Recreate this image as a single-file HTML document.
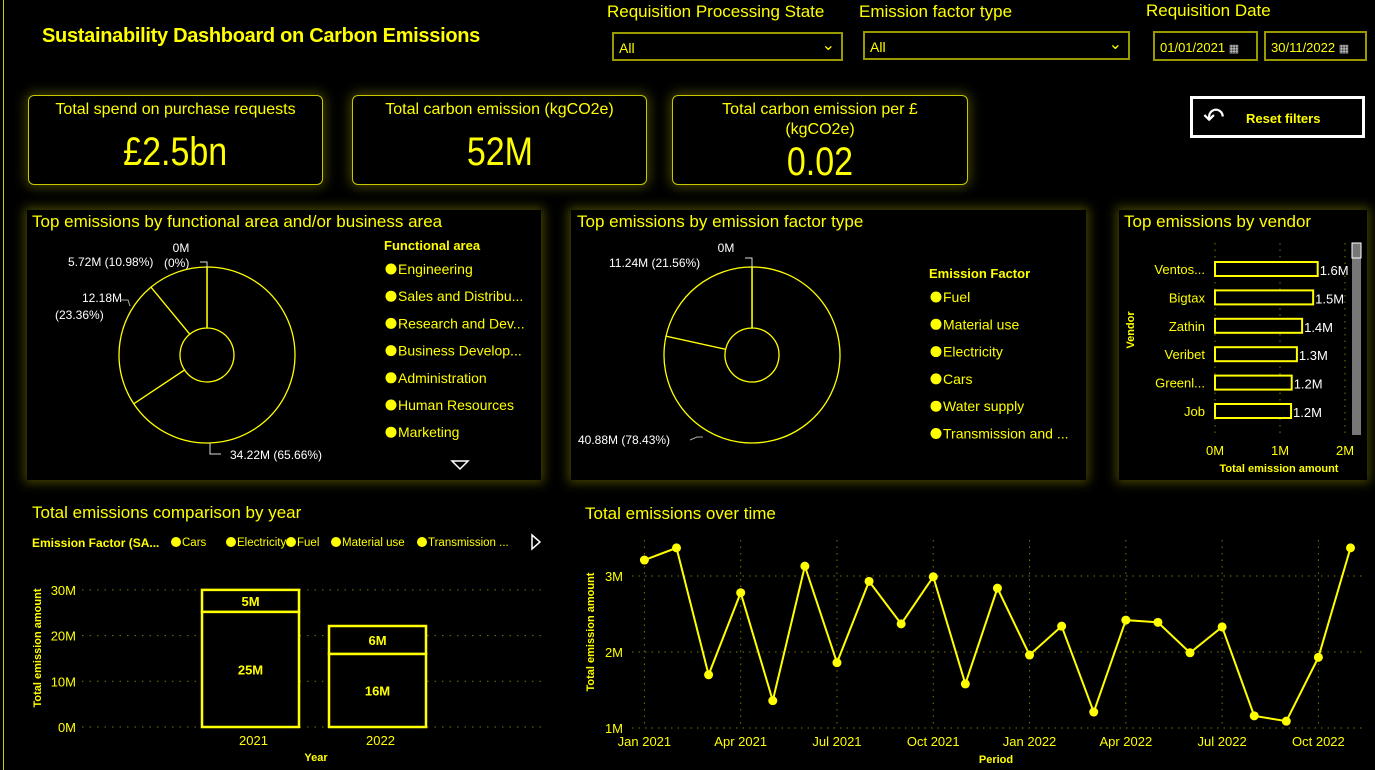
<!DOCTYPE html>
<html><head><meta charset="utf-8">
<style>
body{margin:0;background:#000;width:1375px;height:770px;overflow:hidden;position:relative;font-family:"Liberation Sans",sans-serif;color:#ff0}
.abs{position:absolute}
.panel{position:absolute;background:#000;box-shadow:0 0 10px 3px rgba(120,120,0,.55)}
.kpi{position:absolute;border:1px solid #c8c800;border-radius:6px;box-shadow:0 0 12px 2px rgba(150,150,0,.45);text-align:center}
.kt{font-size:16px;margin-top:4px;line-height:20px}
.kv{font-size:40px;display:inline-block;transform:scaleX(0.85)}
.lbl{position:absolute;font-size:17px}
.dd{position:absolute;border:2px solid #9a9a00;height:25px;box-sizing:border-box;font-size:14px;color:#ff0;padding:6px 0 0 5px}
svg text{font-family:"Liberation Sans",sans-serif}
</style></head><body>
<div class="abs" style="left:3px;top:0;width:1px;height:770px;background:#cc0"></div>
<div class="abs" style="left:42px;top:25px;font-size:20px;font-weight:bold;letter-spacing:-0.3px">Sustainability Dashboard on Carbon Emissions</div>

<div class="lbl" style="left:607px;top:2px">Requisition Processing State</div>
<div class="dd" style="left:612px;top:32px;width:231px;height:29px">All<span style="position:absolute;right:6px;top:1px;font-size:16px">&#8964;</span></div>
<div class="lbl" style="left:859px;top:2px">Emission factor type</div>
<div class="dd" style="left:863px;top:31px;width:267px;height:29px">All<span style="position:absolute;right:6px;top:1px;font-size:16px">&#8964;</span></div>
<div class="lbl" style="left:1146px;top:1px">Requisition Date</div>
<div class="dd" style="left:1153px;top:31px;width:105px;height:30px;padding-top:7px;font-size:13px">01/01/2021 <span style="font-size:11px;color:#ccc">&#9638;</span></div>
<div class="dd" style="left:1264px;top:31px;width:103px;height:30px;padding-top:7px;font-size:13px">30/11/2022 <span style="font-size:11px;color:#ccc">&#9638;</span></div>

<div class="kpi" style="left:28px;top:95px;width:293px;height:88px"><div class="kt">Total spend on purchase requests</div><div class="kv" style="margin-top:10px">£2.5bn</div></div>
<div class="kpi" style="left:352px;top:95px;width:293px;height:88px"><div class="kt">Total carbon emission (kgCO2e)</div><div class="kv" style="margin-top:10px">52M</div></div>
<div class="kpi" style="left:672px;top:95px;width:294px;height:88px"><div class="kt">Total carbon emission per £<br>(kgCO2e)</div><div class="kv" style="margin-top:0px">0.02</div></div>
<div class="abs" style="left:1190px;top:96px;width:175px;height:42px;box-sizing:border-box;border:3px solid #fff;font-weight:bold;font-size:13px"><span style="position:absolute;left:10px;top:3px;color:#fff;font-size:26px;font-weight:normal">&#8630;</span><span style="position:absolute;left:53px;top:12px">Reset filters</span></div>

<div class="panel" style="left:27px;top:210px;width:514px;height:270px"></div>
<div class="panel" style="left:571px;top:210px;width:515px;height:270px"></div>
<div class="panel" style="left:1119px;top:210px;width:248px;height:270px"></div>

<svg class="abs" id="sv" style="left:0;top:0" width="1375" height="770"></svg>

<script>
// ---- data ----
const faLabels=["34.22M (65.66%)","12.18M (23.36%)","5.72M (10.98%)","0M (0%)"];
const faValues=[34.22,12.18,5.72,0];
const faLegend=["Engineering","Sales and Distribu...","Research and Dev...","Business Develop...","Administration","Human Resources","Marketing"];
const efValues=[40.88,11.24,0];
const efLegend=["Fuel","Material use","Electricity","Cars","Water supply","Transmission and ..."];
const vendors=["Ventos...","Bigtax","Zathin","Veribet","Greenl...","Job"];
const vendorValues=[1.58,1.51,1.34,1.26,1.18,1.17];
const vendorLabels=["1.6M","1.5M","1.4M","1.3M","1.2M","1.2M"];
const vendorTicks=[0,1,2];
const years=["2021","2022"];
const yearBottom=[25.2,16.0];
const yearTop=[4.8,6.1];
const yearBottomLabels=["25M","16M"];
const yearTopLabels=["5M","6M"];
const barTicks=[0,10,20,30];
const barLegend=["Cars","Electricity","Fuel","Material use","Transmission ..."];
const months=["Jan 2021","Feb 2021","Mar 2021","Apr 2021","May 2021","Jun 2021","Jul 2021","Aug 2021","Sep 2021","Oct 2021","Nov 2021","Dec 2021","Jan 2022","Feb 2022","Mar 2022","Apr 2022","May 2022","Jun 2022","Jul 2022","Aug 2022","Sep 2022","Oct 2022","Nov 2022"];
const monthValues=[3.21,3.37,1.70,2.78,1.36,3.13,1.86,2.93,2.37,2.99,1.58,2.84,1.96,2.34,1.21,2.42,2.39,1.99,2.33,1.16,1.09,1.93,3.37];
const lineTicks=[1,2,3];

const NS="http://www.w3.org/2000/svg";
const sv=document.getElementById('sv');
function mk(tag,attrs,parent,txt){const e=document.createElementNS(NS,tag);for(const k in attrs)e.setAttribute(k,attrs[k]);if(txt!==undefined)e.textContent=txt;(parent||sv).appendChild(e);return e;}
function T(x,y,s,opt){opt=opt||{};const e=mk('text',{x:x,y:y,fill:opt.fill||'#ff0','font-size':opt.size||13,'text-anchor':opt.anchor||'start','font-weight':opt.bold?'bold':'normal'},null,s);if(opt.rot)e.setAttribute('transform','rotate(-90 '+x+' '+y+')');return e;}

let t;
t=T(32,227,"Top emissions by functional area and/or business area",{size:17});


t=T(577,227,"Top emissions by emission factor type",{size:17});


t=T(1124,227,"Top emissions by vendor",{size:17});


t=T(32,518,"Total emissions comparison by year",{size:17});


t=T(585,519,"Total emissions over time",{size:17});



function donut(cx,cy,R,r,vals,name){
  const tot=vals.reduce((a,b)=>a+b,0);let a0=0;
  vals.forEach((v,i)=>{
    const a1=a0+v/tot*2*Math.PI;
    const p=(ang,rad)=>[cx+rad*Math.sin(ang),cy-rad*Math.cos(ang)];
    let d;
    if(v/tot>=0.9999){d=`M${cx},${cy-R}A${R},${R} 0 1 1 ${cx-0.01},${cy-R}Z M${cx},${cy-r}A${r},${r} 0 1 0 ${cx-0.01},${cy-r}Z`;}
    else{const lg=(a1-a0)>Math.PI?1:0;const [x1,y1]=p(a0,R),[x2,y2]=p(a1,R),[x3,y3]=p(a1,r),[x4,y4]=p(a0,r);
    d=`M${x1},${y1}A${R},${R} 0 ${lg} 1 ${x2},${y2}L${x3},${y3}A${r},${r} 0 ${lg} 0 ${x4},${y4}Z`;}
    const e=mk('path',{d:d,fill:'#000',stroke:'#ff0','stroke-width':1.3});
    
    
    a0=a1;
  });
}
donut(207,355,88,27,faValues,'functional-area');
donut(752,355,88,27,efValues,'emission-factor');

mk('path',{d:'M207,268 V262 H200',stroke:'#ddd',fill:'none'});
T(181,252,"0M",{fill:'#fff',size:12,anchor:'middle'});
T(164,267,"(0%)",{fill:'#fff',size:12});
T(68,266,"5.72M (10.98%)",{fill:'#fff',size:12});
T(82,302,"12.18M",{fill:'#fff',size:12});
T(55,319,"(23.36%)",{fill:'#fff',size:12});
mk('path',{d:'M120,300 H128 L130,306',stroke:'#aaa',fill:'none'});
mk('path',{d:'M210,443 V454 H221',stroke:'#ddd',fill:'none'});
T(230,459,"34.22M (65.66%)",{fill:'#fff',size:12});
T(384,250,"Functional area",{bold:true,size:13,fill:'#ff0'});
faLegend.forEach((s,i)=>{const y=269+i*27.2;
  const c=mk('circle',{cx:391,cy:y,r:5.5,fill:'#ff0'});
  
  
  const tx=T(398,y+5,s,{size:14});
  
  });
mk('path',{d:'M452,461 H468 L460,469 Z',fill:'none',stroke:'#fff','stroke-width':1.5});

mk('path',{d:'M752,267 V258 H745',stroke:'#ddd',fill:'none'});
T(726,252,"0M",{fill:'#fff',size:12,anchor:'middle'});
T(609,267,"11.24M (21.56%)",{fill:'#fff',size:12});
mk('path',{d:'M703,437 L697,437 L690,440',stroke:'#aaa',fill:'none'});
T(578,444,"40.88M (78.43%)",{fill:'#fff',size:12});
T(929,278,"Emission Factor",{bold:true,size:13});
efLegend.forEach((s,i)=>{const y=297+i*27.3;
  const c=mk('circle',{cx:936,cy:y,r:5.5,fill:'#ff0'});
  
  
  const tx=T(943,y+5,s,{size:14});
  
  });

const vx=v=>1215+v*65;
vendorTicks.forEach(v=>{mk('line',{x1:vx(v),x2:vx(v),y1:243,y2:435,stroke:'#777700','stroke-dasharray':'1.5 5'});
  T(vx(v),455,v+"M",{size:13,anchor:'middle'});});
vendors.forEach((n,i)=>{const cy=269+i*28.4;
  const r=mk('rect',{x:vx(0),y:cy-7,width:vx(vendorValues[i])-vx(0),height:14,fill:'#000',stroke:'#ff0','stroke-width':2});
  
  
  T(1205,cy+5,n,{size:13,anchor:'end'});
  T(vx(vendorValues[i])+2,cy+6,vendorLabels[i],{size:13,fill:'#fff'});});
T(1134,330,"Vendor",{size:11,bold:true,rot:true,anchor:'middle'});
T(1279,472,"Total emission amount",{size:11,bold:true,anchor:'middle'});
mk('rect',{x:1352,y:243,width:9,height:192,fill:'#777'});
mk('rect',{x:1352,y:243,width:9,height:15,fill:'#777',stroke:'#fff'});

const by=v=>727-v*4.57;
barTicks.forEach(v=>{mk('line',{x1:82,x2:545,y1:by(v),y2:by(v),stroke:'#777700','stroke-dasharray':'1.5 6'});
  T(76,by(v)+5,v+"M",{size:13,anchor:'end'});});
years.forEach((y,i)=>{const x=202+i*127,w=97;
  const b=mk('rect',{x:x,y:by(yearBottom[i]),width:w,height:by(0)-by(yearBottom[i]),fill:'#000',stroke:'#ff0','stroke-width':2.5});
  
  
  const tp=mk('rect',{x:x,y:by(yearBottom[i]+yearTop[i]),width:w,height:by(yearBottom[i])-by(yearBottom[i]+yearTop[i]),fill:'#000',stroke:'#ff0','stroke-width':2.5});
  
  
  T(x+w/2,(by(0)+by(yearBottom[i]))/2+5,yearBottomLabels[i],{bold:true,size:13,anchor:'middle'});
  T(x+w/2,(by(yearBottom[i])+by(yearBottom[i]+yearTop[i]))/2+5,yearTopLabels[i],{bold:true,size:13,anchor:'middle'});
  T(x+w/2+3,745,y,{size:13,anchor:'middle'});});
T(316,761,"Year",{size:11,bold:true,anchor:'middle'});
T(41,648,"Total emission amount",{size:11,bold:true,rot:true,anchor:'middle'});
T(32,547,"Emission Factor (SA...",{bold:true,size:12});
let lx=[176,231,291,336,422];
barLegend.forEach((s,i)=>{mk('circle',{cx:lx[i],cy:542,r:5,fill:'#ff0'});T(lx[i]+6,546,s,{size:11.5});});
mk('path',{d:'M532,535 L540,542 L532,549 Z',fill:'none',stroke:'#fff','stroke-width':1.5});

const lxs=i=>644.4+i*(674/21);
const lys=v=>728-(v-1)*76;
lineTicks.forEach(v=>{mk('line',{x1:632,x2:1365,y1:lys(v),y2:lys(v),stroke:'#777700','stroke-dasharray':'1.5 5'});
  T(623,lys(v)+5,v+"M",{size:13,anchor:'end'});});
months.forEach((m,i)=>{if(i%3===0){mk('line',{x1:lxs(i),x2:lxs(i),y1:540,y2:728,stroke:'#777700','stroke-dasharray':'1.5 5'});
  T(lxs(i),746,m,{size:13,anchor:'middle'});}});
const pl=mk('polyline',{points:monthValues.map((v,i)=>lxs(i)+','+lys(v)).join(' '),fill:'none',stroke:'#ff0','stroke-width':2});


monthValues.forEach((v,i)=>{const c=mk('circle',{cx:lxs(i),cy:lys(v),r:4.5,fill:'#ff0'});
  
  });
T(996,763,"Period",{size:11,bold:true,anchor:'middle'});
T(594,632,"Total emission amount",{size:11,bold:true,rot:true,anchor:'middle'});
</script>
</body></html>
